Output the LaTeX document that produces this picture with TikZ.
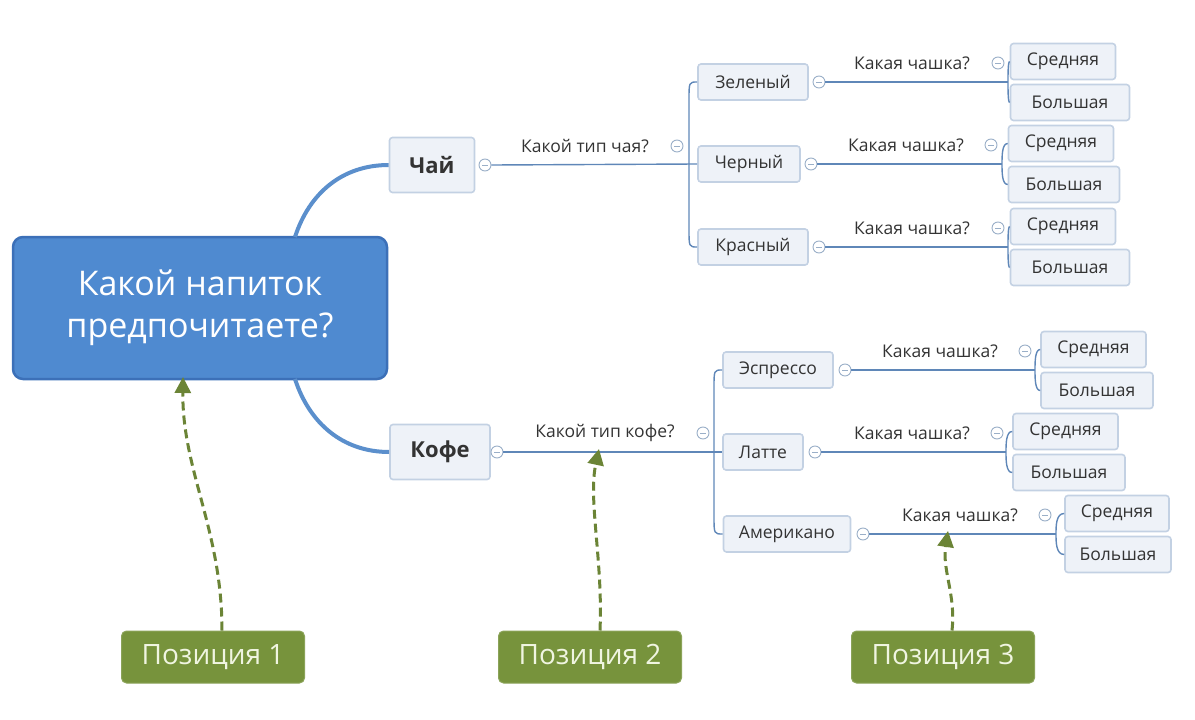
\documentclass[tikz,border=0pt]{standalone}
\usepackage{fontspec}
\setmainfont{Open Sans}
\usetikzlibrary{arrows.meta}
\definecolor{mainblue}{HTML}{4F8AD0}
\definecolor{mainedge}{HTML}{3C70B8}
\definecolor{trunk}{HTML}{5B8FCC}
\definecolor{linec}{HTML}{5F87B8}
\definecolor{boxfill}{HTML}{EEF2F8}
\definecolor{boxedge}{HTML}{C3D1E3}
\definecolor{txt}{HTML}{333333}
\definecolor{olive}{HTML}{77933C}
\definecolor{olivetxt}{HTML}{F0F5E1}
\definecolor{markc}{HTML}{9AAFC8}
\newcommand{\fsz}[1]{\fontsize{#1}{#1}\selectfont}
\tikzset{
  leaf/.style={draw=boxedge, fill=boxfill, rounded corners=3pt, line width=1.6pt,
    minimum height=36pt, inner sep=0pt, font=\fsz{17.5}, text=txt},
  topic/.style={leaf, minimum height=55pt, font=\fsz{22}\bfseries},
  rel/.style={font=\fsz{17.5}, text=txt, inner sep=0pt},
  minus/.style={circle, draw=markc, line width=0.9pt, fill=white, minimum size=12pt, inner sep=0pt,
    path picture={\draw[markc, line width=0.8pt] ([xshift=-3pt]path picture bounding box.center) -- ([xshift=3pt]path picture bounding box.center);}},
  conn/.style={draw=linec, line width=1.4pt},
  posbox/.style={fill=olive, draw=olive!85!white, line width=1pt, rounded corners=5pt, text=olivetxt,
    font=\fsz{28}, minimum width=183pt, minimum height=52pt, inner sep=0pt},
  parrow/.style={draw=olive!90!black, line width=3pt, dash pattern=on 9pt off 5pt,
    -{Triangle[length=16pt,width=16pt,fill=olive!90!black]}}
}
\begin{document}
\begin{tikzpicture}[x=1pt,y=-1pt]
\useasboundingbox (0,0) rectangle (1195,720);
% main
\node[fill=mainblue, draw=mainedge, line width=2.5pt, rounded corners=10pt,
  minimum width=374pt, minimum height=142pt, text=white, font=\fsz{34},
  align=center, inner sep=0pt] (main) at (200,308) {Какой напиток\\[8pt]предпочитаете?};
\node[topic, minimum width=85pt] (tea) at (432,165) {Чай};
\node[topic, minimum width=100pt] (coffee) at (440,452) {Кофе};
\draw[draw=trunk, line width=4pt] (295,237) to[out=72,in=180] (tea.west);
\draw[draw=trunk, line width=4pt] (295,379) to[out=-72,in=180] (coffee.west);

% tea branch
\node[minus] (tm) at (485,165) {};
\node[rel] (tl) at (585,146) {Какой тип чая?};
\node[minus] (tlm) at (677,146) {};
\node[leaf, minimum width=110pt] (green) at (753,82) {Зеленый};
\node[leaf, minimum width=102pt] (black) at (749,164) {Черный};
\node[leaf, minimum width=110pt] (red) at (753,247) {Красный};
\draw[conn] (tm.east) -- (black.west);
\draw[conn] (green.west) .. controls (689,82) .. (689,100) -- (689,229) .. controls (689,247) .. (red.west);

% coffee branch
\node[minus] (cm) at (497,452) {};
\node[rel] (cl) at (605,433) {Какой тип кофе?};
\node[minus] (clm) at (703,433) {};
\node[leaf, minimum width=110pt] (espr) at (778,370) {Эспрессо};
\node[leaf, minimum width=80pt] (latte) at (763,452) {Латте};
\node[leaf, minimum width=127pt] (amer) at (787,534) {Американо};
\draw[conn] (cm.east) -- (latte.west);
\draw[conn] (espr.west) .. controls (714,370) .. (714,388) -- (714,516) .. controls (714,534) .. (amer.west);

% cup sub-branches
\foreach \p/\mx/\lx/\lmx/\bx/\cx/\wa/\wb/\y/\n in {
  green/819/912/998/1008/1070/105/119/82/g,
  black/811/906/991/1002/1064/105/111/164/b,
  red/819/912/998/1008/1070/105/119/247/r,
  espr/845/940/1025/1035/1097/105/112/370/e,
  latte/815/912/997/1006/1069/105/112/452/l,
  amer/863/960/1045/1056/1118/104/106/534/a}{
  \node[minus] (\n m) at (\mx,\y) {};
  \node[rel] (\n lab) at (\lx,\y-19) {Какая чашка?};
  \node[minus] (\n lm) at (\lmx,\y-19) {};
  \node[leaf, minimum width=\wa pt] (\n1) at ({\cx-(\wb-\wa)/2},\y-20.5) {Средняя};
  \node[leaf, minimum width=\wb pt] (\n2) at (\cx,\y+20.5) {Большая};
  \draw[conn] (\n m.east) -- (\bx,\y);
  \draw[conn] (\n1.west) .. controls (\bx,\y-20.5) and (\bx,\y-8) .. (\bx,\y)
     .. controls (\bx,\y+8) and (\bx,\y+20.5) .. (\n2.west);
}

% positions
\node[posbox] (p1) at (213,657) {Позиция 1};
\node[posbox] (p2) at (590,657) {Позиция 2};
\node[posbox] (p3) at (943,657) {Позиция 3};
\coordinate (t1) at (183,377);
\coordinate (t2) at (599,449);
\coordinate (t3) at (948,531);
\draw[parrow] ([xshift=9pt]p1.north) .. controls (222,530) and (182,470) .. (t1);
\draw[parrow] ([xshift=10pt]p2.north) .. controls (603,560) and (588,500) .. (t2);
\draw[parrow] ([xshift=9pt]p3.north) .. controls (956,595) and (942,570) .. (t3);
\end{tikzpicture}
\end{document}
